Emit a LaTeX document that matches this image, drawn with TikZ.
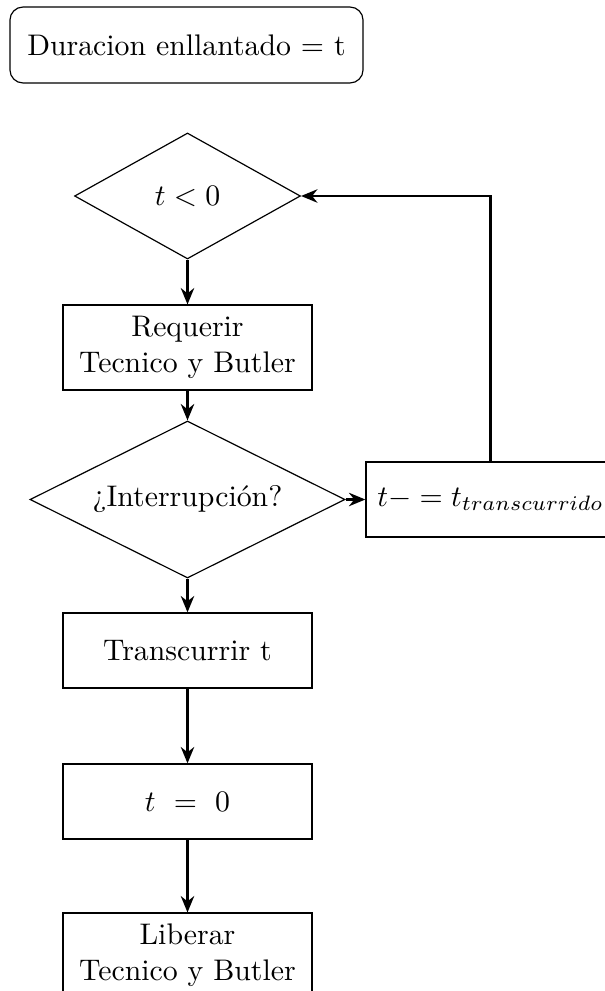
\documentclass[tikz,border=0pt]{standalone}
\usetikzlibrary{shapes.geometric,arrows.meta}
\begin{document}
\begin{tikzpicture}[x=0.3356pt,y=-0.3356pt,
  every node/.style={font=\normalsize},
  procbox/.style={draw,thin,rectangle,minimum width=83.6pt,inner sep=2pt,align=center},
  decision/.style={draw,thin,diamond,inner sep=1pt},
  flow/.style={thick,-{Stealth[length=5.5pt,width=4.5pt]}}]
\useasboundingbox (0,0) rectangle (604,991);

% start label
\node[draw,thin,rounded corners=4.4pt,minimum width=118.5pt,minimum height=25.5pt]
  (start) at (186.5,45) {Duracion enllantado = t};

% decisions
\node[decision,aspect=1.79,minimum width=75.8pt,minimum height=42.3pt] (d1) at (187.5,196) {$t<0$};
\node[decision,aspect=2,minimum width=105.7pt,minimum height=52.7pt] (d2) at (187.5,499.5) {¿Interrupción?};

% process boxes
\node[procbox,minimum height=28.5pt] (req) at (187.5,347.5) {Requerir\\Tecnico y Butler};
\node[procbox,minimum height=25.2pt] (tr) at (187.5,650.5) {Transcurrir t};
\node[procbox,minimum height=25.2pt] (tz) at (187.5,801.5) {$t~=~0$};
\node[procbox,minimum height=28.5pt] (lib) at (187.5,955.5) {Liberar\\Tecnico y Butler};
\node[procbox,minimum height=25.2pt] (sub) at (490.5,499.5) {$t- = t_{transcurrido}$};

% connectors
\draw[flow] (d1.south) -- (req.north);
\draw[flow] (req.south) -- (d2.north);
\draw[flow] (d2.south) -- (tr.north);
\draw[flow] (tr.south) -- (tz.north);
\draw[flow] (tz.south) -- (lib.north);
\draw[flow] (d2.east) -- (sub.west);
\draw[flow] (sub.north) |- (d1.east);
\end{tikzpicture}
\end{document}
